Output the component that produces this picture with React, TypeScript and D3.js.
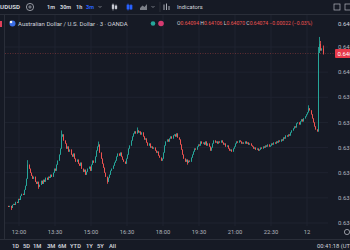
import React from 'react';
import * as d3 from 'd3';

const W = 350;
const H = 250;

// 3-minute closes, AUD/USD (OANDA), from 11:33 to 00:39
const closes = [
  0.63464, 0.63468, 0.63460, 0.63472, 0.63476, 0.63472, 0.63484, 0.63480, 0.63496, 0.63492,
  0.63508, 0.63516, 0.63512, 0.63532, 0.63548, 0.63576, 0.63632, 0.63616, 0.63600, 0.63588,
  0.63576, 0.63584, 0.63564, 0.63556, 0.63564, 0.63544, 0.63552, 0.63568, 0.63556, 0.63572,
  0.63564, 0.63580, 0.63572, 0.63584, 0.63580, 0.63592, 0.63584, 0.63600, 0.63616, 0.63608,
  0.63632, 0.63648, 0.63672, 0.63696, 0.63744, 0.63752, 0.63728, 0.63716, 0.63696, 0.63704,
  0.63684, 0.63692, 0.63672, 0.63664, 0.63676, 0.63656, 0.63644, 0.63652, 0.63636, 0.63628,
  0.63640, 0.63616, 0.63604, 0.63612, 0.63592, 0.63604, 0.63616, 0.63624, 0.63608, 0.63632,
  0.63648, 0.63640, 0.63664, 0.63688, 0.63704, 0.63712, 0.63680, 0.63656, 0.63636, 0.63620,
  0.63600, 0.63584, 0.63564, 0.63580, 0.63592, 0.63608, 0.63616, 0.63628, 0.63640, 0.63648,
  0.63664, 0.63676, 0.63668, 0.63680, 0.63664, 0.63652, 0.63644, 0.63636, 0.63656, 0.63672,
  0.63696, 0.63708, 0.63728, 0.63744, 0.63756, 0.63764, 0.63756, 0.63768, 0.63760, 0.63764,
  0.63752, 0.63760, 0.63744, 0.63732, 0.63736, 0.63720, 0.63708, 0.63716, 0.63700, 0.63704,
  0.63696, 0.63700, 0.63688, 0.63680, 0.63684, 0.63668, 0.63660, 0.63648, 0.63656, 0.63680,
  0.63708, 0.63724, 0.63732, 0.63724, 0.63736, 0.63744, 0.63736, 0.63748, 0.63752, 0.63744,
  0.63756, 0.63740, 0.63732, 0.63712, 0.63692, 0.63672, 0.63656, 0.63644, 0.63652, 0.63640,
  0.63648, 0.63644, 0.63660, 0.63672, 0.63684, 0.63696, 0.63692, 0.63704, 0.63712, 0.63708,
  0.63724, 0.63716, 0.63720, 0.63712, 0.63724, 0.63708, 0.63716, 0.63704, 0.63688, 0.63700,
  0.63716, 0.63728, 0.63720, 0.63724, 0.63716, 0.63724, 0.63720, 0.63728, 0.63720, 0.63712,
  0.63716, 0.63704, 0.63708, 0.63696, 0.63688, 0.63692, 0.63684, 0.63696, 0.63704, 0.63716,
  0.63724, 0.63720, 0.63728, 0.63724, 0.63716, 0.63720, 0.63716, 0.63724, 0.63716, 0.63720,
  0.63712, 0.63716, 0.63708, 0.63704, 0.63696, 0.63700, 0.63692, 0.63696, 0.63688, 0.63692,
  0.63700, 0.63696, 0.63704, 0.63700, 0.63708, 0.63704, 0.63712, 0.63704, 0.63708, 0.63716,
  0.63712, 0.63720, 0.63716, 0.63724, 0.63720, 0.63728, 0.63724, 0.63732, 0.63728, 0.63740,
  0.63736, 0.63748, 0.63744, 0.63752, 0.63748, 0.63760, 0.63768, 0.63776, 0.63784, 0.63780,
  0.63796, 0.63800, 0.63792, 0.63804, 0.63812, 0.63804, 0.63816, 0.63824, 0.63832, 0.63840,
  0.63856, 0.63848, 0.63832, 0.63816, 0.63800, 0.63784, 0.63772, 0.63764, 0.64076, 0.64112,
  0.64086, 0.64094, 0.64074,
];
const firstOpen = 0.63468;
const highWicks: Record<number, number> = {
  16: 0.63650, 44: 0.63768, 75: 0.63724, 107: 0.63780, 250: 0.63868,
  258: 0.64100, 259: 0.64140, 260: 0.64124, 262: 0.64106,
};
const lowWicks: Record<number, number> = {
  2: 0.63452, 25: 0.63536, 82: 0.63556, 149: 0.63632, 262: 0.64070,
};

const priceTicks = [0.641, 0.640, 0.639, 0.638, 0.637, 0.636, 0.635, 0.634];
const timeTickLabels = ['12:00', '13:30', '15:00', '16:30', '18:00', '19:30', '21:00', '22:30', '12'];
const rangeButtons = ['1D', '5D', '1M', '3M', '6M', 'YTD', '1Y', '5Y', 'All'];
const intervals = ['1m', '30m', '1h', '3m'];
const legendTitle = 'Australian Dollar / U.S. Dollar · 3 · OANDA';
const ohlcLabels = ['O', 'H', 'L', 'C'];
const ohlcValues = ['0.64094', '0.64106', '0.64070', '0.64074'];
const changeText = '−0.00022 (−0.03%)';
const lastPrice = 0.64074;

const BG = '#161a25';
const GRID = '#1f2330';
const TEXT = '#b2b5be';
const UP = '#26a69a';
const DOWN = '#ef5350';
const FONT = "Roboto, 'Liberation Sans', sans-serif";

export default function App() {
  const dayStart = new Date(2024, 0, 11, 12, 0);
  const x = d3.scaleTime()
    .domain([dayStart, new Date(2024, 0, 12, 0, 0)])
    .range([19, 307]);
  const y = d3.scaleLinear().domain([0.634, 0.641]).range([223, 47]);

  const firstTime = new Date(2024, 0, 11, 11, 33).getTime();
  const candles = closes.map((c, i) => {
    const o = i === 0 ? firstOpen : closes[i - 1];
    const hi = Math.max(o, c, highWicks[i] ?? -Infinity);
    const lo = Math.min(o, c, lowWicks[i] ?? Infinity);
    return { t: new Date(firstTime + i * 3 * 60000), o, c, hi, lo };
  });

  const tickTimes = timeTickLabels.map((_, k) => new Date(dayStart.getTime() + k * 90 * 60000));

  const rangeX = [12, 23, 33, 47, 58, 70, 86, 97, 109];
  const intervalX = [47, 60, 76, 86];

  return (
    <svg
      width={W}
      height={H}
      style={{ position: 'absolute', left: 0, top: 0, display: 'block', background: BG }}
      fontFamily={FONT}
    >
      <rect x={0} y={0} width={W} height={H} fill={BG} />
      {/* chart grid */}
      <g>
        {tickTimes.map((t, k) => (
          <line key={'vg' + k} x1={x(t)} x2={x(t)} y1={15} y2={226} stroke={GRID} strokeWidth={1} />
        ))}
        {priceTicks.map((p, k) => (
          <line key={'hg' + k} x1={5} x2={328} y1={y(p)} y2={y(p)} stroke={GRID} strokeWidth={1} />
        ))}
      </g>

      {/* candles */}
      <g>
        {candles.map((d, i) => {
          const cx = Math.round(x(d.t));
          const col = d.c >= d.o ? UP : DOWN;
          const yTop = y(Math.max(d.o, d.c));
          const yBot = y(Math.min(d.o, d.c));
          return (
            <g key={i}>
              <line x1={cx + 0.5} x2={cx + 0.5} y1={y(d.hi)} y2={y(d.lo)} stroke={col} strokeWidth={1} opacity={0.85} />
              <rect x={cx} y={yTop} width={1} height={Math.max(1, yBot - yTop)} fill={col} />
            </g>
          );
        })}
      </g>

      {/* last price line */}
      <line x1={5} x2={335} y1={y(lastPrice)} y2={y(lastPrice)} stroke={DOWN} strokeOpacity={0.35} strokeDasharray="1,1.5" />

      {/* price axis */}
      <g fontSize={6} fill={TEXT}>
        {priceTicks.map((p, k) => (
          <text key={'pl' + k} x={338} y={y(p)} dy="0.35em">{p.toFixed(5)}</text>
        ))}
      </g>
      <rect x={335} y={y(lastPrice) - 4.5} width={20} height={9} fill="#e8394a" rx={1} />
      <text x={337.5} y={y(lastPrice)} dy="0.35em" fontSize={6} fill="#ffffff">{lastPrice.toFixed(5)}</text>

      {/* time axis */}
      <g fontSize={5.8} fill={TEXT}>
        {tickTimes.map((t, k) => (
          <text key={'tl' + k} x={x(t)} y={232} dy="0.35em" textAnchor="middle">{timeTickLabels[k]}</text>
        ))}
      </g>
      <circle cx={347} cy={232} r={2.6} fill="none" stroke={TEXT} strokeWidth={0.8} />

      {/* frames */}
      <line x1={0} x2={W} y1={14.5} y2={14.5} stroke="#2a2e39" strokeWidth={1} />
      <line x1={4.5} x2={4.5} y1={15} y2={240} stroke="#2a2e39" strokeWidth={1} />
      <line x1={0} x2={W} y1={239.5} y2={239.5} stroke="#2a2e39" strokeWidth={1} />
      <rect x={0} y={21} width={2} height={6} fill="#e0405a" />

      {/* top toolbar */}
      <text x={-4} y={7} dy="0.35em" fontSize={6.2} fontWeight={700} fill="#d1d4dc">AUDUSD</text>
      <circle cx={30} cy={7} r={3.6} fill="none" stroke={TEXT} strokeWidth={0.8} />
      <line x1={28.2} x2={31.8} y1={7} y2={7} stroke={TEXT} strokeWidth={0.7} />
      <line x1={30} x2={30} y1={5.2} y2={8.8} stroke={TEXT} strokeWidth={0.7} />
      <g fontSize={5.5} fontWeight={700}>
        {intervals.map((s, k) => (
          <text key={'iv' + k} x={intervalX[k]} y={7} dy="0.35em" fill={k === 3 ? '#2962ff' : '#d1d4dc'}>{s}</text>
        ))}
      </g>
      <path d="M98.5,6 L100,7.5 L101.5,6" fill="none" stroke={TEXT} strokeWidth={0.6} />
      {/* chart type icons */}
      <g stroke="#d1d4dc" strokeWidth={0.7} fill="none">
        <line x1={113} x2={113} y1={3.5} y2={10.5} />
        <line x1={116} x2={116} y1={4.5} y2={9.5} />
        <rect x={112.2} y={5} width={1.6} height={3.5} fill="#d1d4dc" />
        <rect x={115.2} y={6} width={1.6} height={2.5} fill="#d1d4dc" />
      </g>
      <g stroke="#2962ff" strokeWidth={0.7} fill="#2962ff">
        <line x1={128} x2={128} y1={3.5} y2={10.5} />
        <line x1={131} x2={131} y1={4} y2={10} />
        <rect x={127} y={5} width={2} height={4} />
        <rect x={130} y={5.5} width={2} height={3.5} />
      </g>
      <path d="M140,10 L140,8 L142.5,5.5 L144.5,7 L147,4 L147,10 Z" fill="#9598a1" opacity={0.8} />
      <path d="M151.5,6 L153,7.5 L154.5,6" fill="none" stroke={TEXT} strokeWidth={0.6} />
      <line x1={160} x2={160} y1={2} y2={12} stroke="#2a2e39" />
      <path d="M164,10 L164,4.5 M166.5,10 L166.5,3.5 M169,10 L169,6" stroke="#d1d4dc" strokeWidth={0.8} />
      <text x={177} y={7} dy="0.35em" fontSize={5.8} fill="#d1d4dc">Indicators</text>
      <rect x={334} y={4} width={6} height={6} fill="none" stroke={TEXT} strokeWidth={0.7} />
      <rect x={345} y={4} width={6} height={6} fill="none" stroke={TEXT} strokeWidth={0.7} />

      {/* legend */}
      <circle cx={12.5} cy={23.5} r={3} fill="#3a6ee8" />
      <circle cx={11} cy={22} r={1.3} fill="#f0f0f0" />
      <text x={18} y={23.5} dy="0.35em" fontSize={6} fill="#d1d4dc">{legendTitle}</text>
      <circle cx={153} cy={23.5} r={2.3} fill={UP} />
      <circle cx={161} cy={23.5} r={2.8} fill="#d63a70" />
      <text x={177} y={23.5} dy="0.35em" fontSize={5.1}>
        {ohlcLabels.map((l, k) => (
          <React.Fragment key={'oh' + k}>
            <tspan fill="#d1d4dc">{l}</tspan>
            <tspan fill={DOWN}>{ohlcValues[k] + ' '}</tspan>
          </React.Fragment>
        ))}
        <tspan fill={DOWN}>{changeText}</tspan>
      </text>
      <text x={338} y={23.5} dy="0.35em" fontSize={6} fill="#d1d4dc">{lastPrice.toFixed(5)}</text>

      {/* bottom bar */}
      <g fontSize={5.8} fill="#d1d4dc" fontWeight={600}>
        {rangeButtons.map((s, k) => (
          <text key={'rb' + k} x={rangeX[k]} y={246} dy="0.35em">{s}</text>
        ))}
      </g>
      <text x={317} y={246} dy="0.35em" fontSize={5.8} fill="#d1d4dc">00:41:18 (UTC)</text>
    </svg>
  );
}
